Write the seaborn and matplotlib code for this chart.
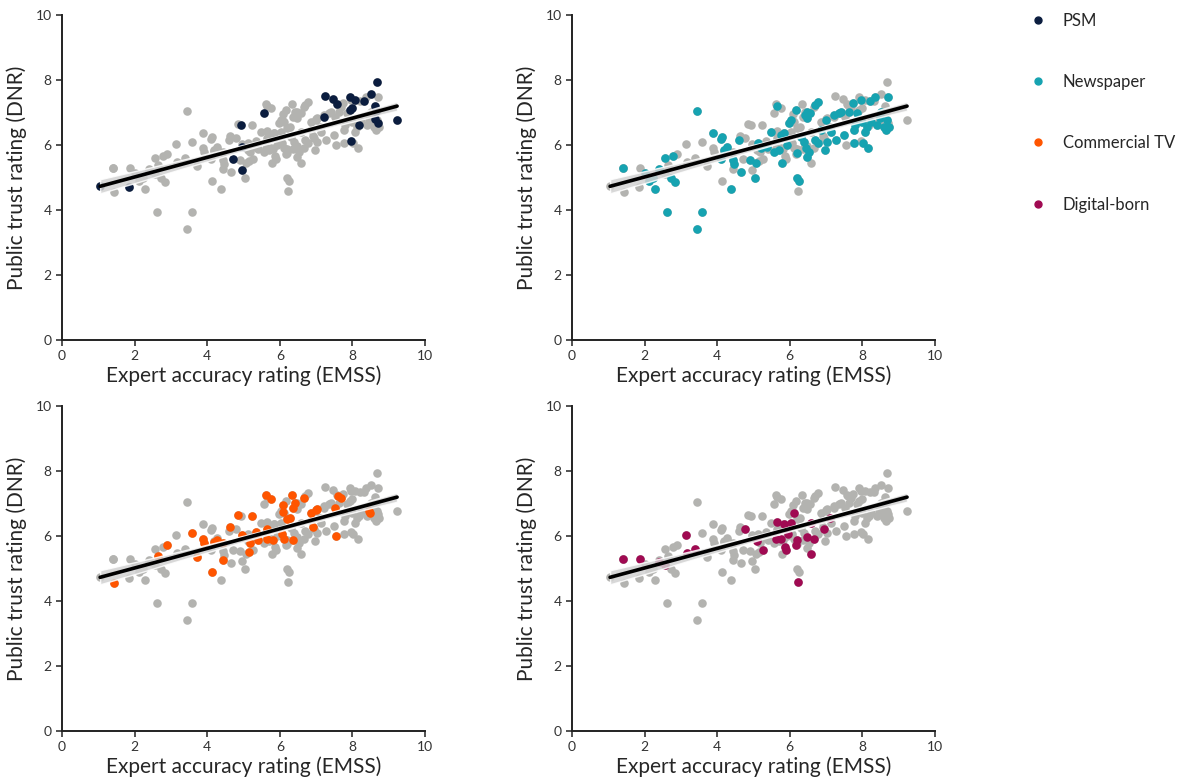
import matplotlib
matplotlib.use("Agg")
import matplotlib.pyplot as plt
from matplotlib.lines import Line2D
import seaborn as sns
import pandas as pd

# expert accuracy (EMSS) vs public trust (DNR), per outlet type
psm_x = [1.05, 1.85, 4.92, 5.56, 4.95, 4.70, 4.96, 7.25, 7.47, 7.57, 7.22, 7.92, 8.07, 8.32,
         7.92, 7.98, 7.97, 8.18, 8.52, 8.67, 8.63, 8.65, 8.63, 8.71, 9.23]
psm_y = [4.74, 4.72, 6.62, 6.99, 5.93, 5.56, 5.23, 7.51, 7.41, 7.26, 6.85, 7.47, 7.38, 7.36,
         7.08, 7.13, 6.13, 6.62, 7.57, 7.94, 7.20, 7.06, 6.80, 6.69, 6.76]

news_x = [1.40, 2.00, 2.11, 2.28, 2.24, 2.41, 2.57, 2.79, 2.72, 2.83, 2.61, 3.45, 3.59, 3.45,
          3.88, 4.10, 4.14, 4.28, 4.19, 4.11, 4.37, 4.44, 4.46, 4.59, 4.65, 4.90, 5.07, 5.03,
          5.12, 5.20, 5.38, 5.49, 5.64, 5.56, 5.69, 5.79, 5.75, 5.84, 5.93, 5.99, 6.02, 6.17,
          6.21, 6.26, 6.19, 6.30, 6.41, 6.48, 6.57, 6.47, 6.39, 6.46, 6.48, 6.54, 6.70, 6.78,
          6.69, 6.78, 6.85, 6.96, 6.99, 7.03, 7.13, 7.22, 7.26, 7.35, 7.40, 7.49, 7.63, 7.73,
          7.76, 7.77, 7.79, 7.86, 7.95, 7.99, 8.01, 8.06, 8.12, 8.15, 8.20, 8.23, 8.36, 8.39,
          8.49, 8.52, 8.59, 8.64, 8.71, 8.73, 8.69]
news_y = [5.28, 5.15, 4.90, 4.64, 4.97, 5.25, 5.60, 5.66, 4.97, 4.87, 3.93, 7.06, 3.95, 3.42,
          6.36, 6.17, 6.24, 5.93, 5.85, 5.58, 4.64, 5.54, 5.42, 6.15, 5.18, 5.54, 5.44, 4.97,
          6.05, 5.90, 5.93, 6.41, 7.20, 5.79, 5.85, 5.44, 6.31, 6.36, 6.00, 6.67, 6.77, 7.08,
          4.97, 4.90, 5.74, 6.26, 6.92, 7.03, 6.97, 6.82, 6.10, 5.90, 5.64, 5.79, 7.23, 7.33,
          6.15, 6.05, 6.46, 5.85, 6.77, 6.10, 6.41, 6.92, 6.15, 6.97, 7.03, 6.31, 7.03, 7.28,
          6.05, 6.46, 6.62, 6.97, 7.38, 6.72, 6.05, 6.41, 6.56, 5.90, 7.36, 6.72, 7.49, 6.62,
          6.82, 7.03, 6.56, 6.46, 7.47, 6.56, 6.77]

tv_x = [1.43, 2.64, 2.88, 3.58, 3.73, 3.88, 3.91, 4.13, 4.19, 4.26, 4.43, 4.44, 4.63, 4.85,
        4.96, 5.14, 5.18, 5.23, 5.34, 5.40, 5.62, 5.75, 5.64, 5.66, 5.80, 6.08, 6.10, 6.06,
        6.12, 6.19, 6.28, 6.34, 6.37, 6.43, 6.37, 6.67, 6.87, 6.91, 7.00, 7.03, 7.53, 7.55,
        7.60, 7.68, 8.45, 8.48]
tv_y = [4.55, 5.39, 5.71, 6.10, 5.36, 5.90, 5.77, 4.89, 5.82, 5.88, 5.26, 5.79, 6.29, 6.64,
        6.02, 5.51, 5.77, 6.62, 6.12, 5.88, 7.25, 7.13, 6.21, 5.90, 5.88, 6.95, 6.74, 6.05,
        5.92, 6.51, 6.56, 7.25, 6.87, 7.03, 5.88, 7.18, 6.70, 6.29, 6.80, 6.84, 6.87, 6.00,
        7.23, 7.18, 6.77, 6.70]

dig_x = [1.40, 1.87, 2.39, 2.55, 3.14, 3.18, 3.40, 4.78, 5.11, 5.25, 5.66, 5.62, 5.75, 5.84,
         5.86, 5.90, 5.95, 6.04, 6.12, 6.17, 6.21, 6.23, 6.48, 6.58, 6.59, 6.67, 6.94, 7.11]
dig_y = [5.28, 5.30, 5.20, 5.10, 6.04, 5.47, 5.59, 6.21, 5.85, 5.57, 6.43, 5.92, 5.90, 6.36,
         5.67, 5.57, 6.05, 6.39, 6.70, 5.71, 5.88, 4.59, 5.98, 6.39, 5.44, 5.90, 6.21, 6.56]

groups = ['PSM', 'Newspaper', 'Commercial TV', 'Digital-born']
colors = ['#0b1d3f', '#16a3b1', '#ff5500', '#a00a52']

df = pd.concat([
    pd.DataFrame({'emss': psm_x, 'dnr': psm_y, 'type': 'PSM'}),
    pd.DataFrame({'emss': news_x, 'dnr': news_y, 'type': 'Newspaper'}),
    pd.DataFrame({'emss': tv_x, 'dnr': tv_y, 'type': 'Commercial TV'}),
    pd.DataFrame({'emss': dig_x, 'dnr': dig_y, 'type': 'Digital-born'}),
], ignore_index=True)

sns.set_style('ticks')
plt.rcParams['font.family'] = ['Lato', 'DejaVu Sans']

fig = plt.figure(figsize=(11.81, 7.8), dpi=100)
pos = [(0.0525, 0.5641), (0.4843, 0.5641), (0.0525, 0.0628), (0.4843, 0.0628)]

for (l, b), g, c in zip(pos, groups, colors):
    ax = fig.add_axes([l, b, 0.3074, 0.4167])
    sns.scatterplot(data=df, x='emss', y='dnr', color='#b3b3b0', s=38, linewidth=0, ax=ax)
    sns.scatterplot(data=df[df['type'] == g], x='emss', y='dnr', color=c, s=38, linewidth=0, ax=ax)
    sns.regplot(data=df, x='emss', y='dnr', scatter=False, color='black', seed=1,
                line_kws={'linewidth': 2.6}, ax=ax)
    for coll in ax.collections[2:]:
        coll.set_facecolor('#d2d2d2')
        coll.set_alpha(0.85)
    ax.set_xlim(0, 10)
    ax.set_ylim(0, 10)
    ax.set_xticks([0, 2, 4, 6, 8, 10])
    ax.set_yticks([0, 2, 4, 6, 8, 10])
    ax.tick_params(labelsize=10, colors='#333333', length=4, width=1.2)
    ax.set_xlabel('Expert accuracy rating (EMSS)', fontsize=15, labelpad=2)
    ax.set_ylabel('Public trust rating (DNR)', fontsize=15, labelpad=6)
    sns.despine(ax=ax)
    for sp in ['left', 'bottom']:
        ax.spines[sp].set_linewidth(1.4)
        ax.spines[sp].set_color('#222222')

handles = [Line2D([], [], marker='o', linestyle='', color=c, markersize=5) for c in colors]
fig.legend(handles, groups, loc='upper left', bbox_to_anchor=(0.8575, 1.003), frameon=False,
           fontsize=12, labelspacing=2.72, handletextpad=0.9, handlelength=1.2)

fig.savefig('out.png', dpi=100)
